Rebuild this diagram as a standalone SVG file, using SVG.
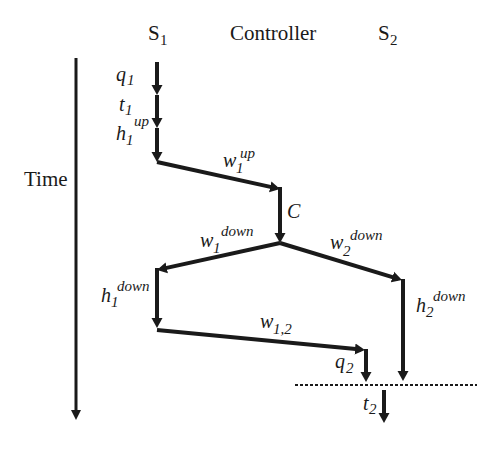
<svg xmlns="http://www.w3.org/2000/svg" width="500" height="449" viewBox="0 0 500 449">
<style>
text{font-family:"Liberation Serif","DejaVu Serif",serif;fill:#1a1a1a}
.hd{font-size:21px}
.hs{font-size:15px}
.it{font-style:italic;font-size:20px}
.sb{font-style:italic;font-size:15px}
.sp{font-style:italic;font-size:15px}
.ln{stroke:#1a1a1a;stroke-width:4;fill:none}
.tm{stroke:#1a1a1a;stroke-width:3;fill:none}
.dash{stroke:#1a1a1a;stroke-width:2;stroke-dasharray:3 2;fill:none}
</style>
<defs>
<marker id="ah" markerUnits="userSpaceOnUse" markerWidth="12" markerHeight="12" viewBox="0 0 12 12" refX="6" refY="6" orient="auto">
<path d="M0,0.5 L10,6 L0,11.5 Z" fill="#1a1a1a"/>
</marker>
<marker id="at" markerUnits="userSpaceOnUse" markerWidth="12" markerHeight="12" viewBox="0 0 12 12" refX="6" refY="6" orient="auto">
<path d="M0,1 L10,6 L0,11 Z" fill="#1a1a1a"/>
</marker>
</defs>
<rect width="500" height="449" fill="#ffffff"/>

<g id="headers">
<g id="s1"><text class="hd" x="148" y="40">S</text><text class="hs" x="160" y="45">1</text></g>
<g id="controller"><text class="hd" x="230" y="40">Controller</text></g>
<g id="s2"><text class="hd" x="378" y="40">S</text><text class="hs" x="390" y="45">2</text></g>
<g id="time"><text class="hd" x="24" y="186">Time</text></g>
</g>

<g id="connectors">
<line class="tm" x1="76" y1="58" x2="76" y2="416" marker-end="url(#at)"/>
<line class="ln" x1="157" y1="62" x2="157" y2="91" marker-end="url(#ah)"/>
<line class="ln" x1="157" y1="95" x2="157" y2="124" marker-end="url(#ah)"/>
<line class="ln" x1="157" y1="128" x2="157" y2="158" marker-end="url(#ah)"/>
<line class="ln" x1="157" y1="162" x2="276.1" y2="188.1" marker-end="url(#ah)"/>
<line class="ln" x1="280" y1="187" x2="280" y2="239" marker-end="url(#ah)"/>
<line class="ln" x1="280" y1="243" x2="160.9" y2="269.1" marker-end="url(#ah)"/>
<line class="ln" x1="280" y1="243" x2="398.2" y2="278.8" marker-end="url(#ah)"/>
<line class="ln" x1="157" y1="268" x2="157" y2="324" marker-end="url(#ah)"/>
<line class="ln" x1="157" y1="330" x2="361" y2="349.6" marker-end="url(#ah)"/>
<line class="ln" x1="366" y1="349" x2="366" y2="378" marker-end="url(#ah)"/>
<line class="ln" x1="403" y1="279" x2="403" y2="377" marker-end="url(#ah)"/>
<line class="ln" x1="384" y1="390" x2="384" y2="419" marker-end="url(#ah)"/>
<line class="dash" x1="295" y1="385" x2="477" y2="385"/>
</g>

<g id="labels">
<g id="q1"><text class="it" x="116" y="81">q</text><text class="sb" x="127" y="85">1</text></g>
<g id="t1"><text class="it" x="119" y="111">t</text><text class="sb" x="125" y="115">1</text></g>
<g id="h1up"><text class="it" x="116" y="140">h</text><text class="sb" x="126" y="145">1</text><text class="sp" x="134" y="126">up</text></g>
<g id="w1up"><text class="it" x="223" y="167">w</text><text class="sb" x="236" y="173">1</text><text class="sp" x="240" y="158">up</text></g>
<g id="c"><text class="it" x="287" y="218">C</text></g>
<g id="w1down"><text class="it" x="200" y="247">w</text><text class="sb" x="213" y="253">1</text><text class="sp" x="221" y="236">down</text></g>
<g id="w2down"><text class="it" x="330" y="249">w</text><text class="sb" x="343" y="256">2</text><text class="sp" x="350" y="240">down</text></g>
<g id="h1down"><text class="it" x="101" y="302">h</text><text class="sb" x="111" y="307">1</text><text class="sp" x="117" y="291">down</text></g>
<g id="w12"><text class="it" x="260" y="328">w</text><text class="sb" x="273" y="334">1,2</text></g>
<g id="q2"><text class="it" x="335" y="368">q</text><text class="sb" x="346" y="373">2</text></g>
<g id="h2down"><text class="it" x="416" y="312">h</text><text class="sb" x="426" y="317">2</text><text class="sp" x="433" y="301">down</text></g>
<g id="t2"><text class="it" x="363" y="410">t</text><text class="sb" x="369" y="414">2</text></g>
</g>
</svg>
